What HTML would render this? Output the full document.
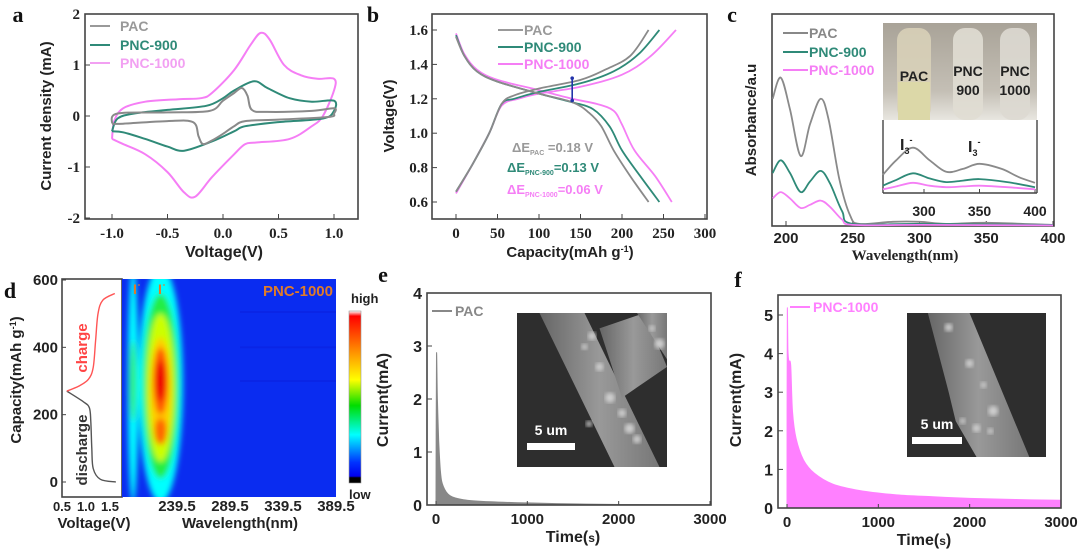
<!DOCTYPE html>
<html><head><meta charset="utf-8"><style>
html,body{margin:0;padding:0;background:#fff;width:1080px;height:555px;overflow:hidden}
svg text{font-family:"Liberation Sans",sans-serif;font-weight:bold}
.serif{font-family:"Liberation Serif",serif!important}
</style></head><body>
<svg id="fig" width="1080" height="555" viewBox="0 0 1080 555" xmlns="http://www.w3.org/2000/svg">
<defs>
<filter id="blur6" x="-50%" y="-50%" width="200%" height="200%"><feGaussianBlur stdDeviation="3"/></filter>
<filter id="blur2"><feGaussianBlur stdDeviation="2"/></filter>
<linearGradient id="cbar" x1="0" y1="0" x2="0" y2="1">
<stop offset="0" stop-color="#ffffff"/><stop offset="0.03" stop-color="#ff0000"/><stop offset="0.25" stop-color="#ff9900"/><stop offset="0.4" stop-color="#ffff00"/><stop offset="0.55" stop-color="#00dd00"/><stop offset="0.72" stop-color="#00ffff"/><stop offset="0.88" stop-color="#0033ff"/><stop offset="0.96" stop-color="#0000ee"/><stop offset="0.97" stop-color="#000"/><stop offset="1" stop-color="#000"/></linearGradient>
<linearGradient id="fiberE" x1="0" y1="0" x2="1" y2="0"><stop offset="0" stop-color="#666"/><stop offset="0.5" stop-color="#999"/><stop offset="1" stop-color="#777"/></linearGradient>
<linearGradient id="photo" x1="0" y1="0" x2="0" y2="1"><stop offset="0" stop-color="#a9a398"/><stop offset="0.7" stop-color="#c4bfb5"/><stop offset="1" stop-color="#e8e6e0"/></linearGradient>
</defs>
</svg>
<script>
// ---------- DATA ----------
const cvPAC=[[-1,-0.15],[-0.95,0.05],[-0.5,0.07],[-0.12,0.1],[0,0.3],[0.1,0.45],[0.17,0.55],[0.22,0.4],[0.26,0.12],[0.4,0.08],[0.8,0.1],[1.0,0.15],[1.0,0.05],[0.95,-0.02],[0.5,-0.07],[0.2,-0.1],[0.1,-0.2],[0,-0.35],[-0.1,-0.48],[-0.18,-0.55],[-0.22,-0.4],[-0.27,-0.12],[-0.5,-0.1],[-0.9,-0.15],[-1,-0.15]];
const cv900=[[-1,-0.3],[-0.95,-0.05],[-0.8,0.05],[-0.5,0.12],[-0.15,0.2],[0,0.35],[0.1,0.5],[0.28,0.68],[0.4,0.55],[0.6,0.35],[0.8,0.28],[1.0,0.3],[1.0,0.1],[0.9,-0.05],[0.5,-0.12],[0.2,-0.2],[0.1,-0.3],[-0.1,-0.5],[-0.35,-0.68],[-0.5,-0.6],[-0.7,-0.45],[-0.9,-0.32],[-1,-0.3]];
const cv1000=[[-1,-0.45],[-0.98,-0.1],[-0.9,0.15],[-0.7,0.28],[-0.4,0.33],[-0.2,0.35],[-0.1,0.45],[0.1,0.9],[0.25,1.4],[0.34,1.63],[0.42,1.5],[0.55,1.0],[0.7,0.8],[0.85,0.73],[1.0,0.73],[1.0,0.5],[0.9,0],[0.8,-0.2],[0.6,-0.45],[0.3,-0.52],[0.2,-0.55],[0.1,-0.75],[-0.1,-1.2],[-0.25,-1.58],[-0.35,-1.5],[-0.5,-1.1],[-0.7,-0.75],[-0.9,-0.55],[-1,-0.45]];
const aXTicks=[-1.0,-0.5,0.0,0.5,1.0];
const aYTicks=[-2,-1,0,1,2];
const chPAC=[[0,0.66],[20,0.82],[40,1.0],[55,1.17],[70,1.22],[100,1.26],[150,1.31],[180,1.37],[210,1.45],[232,1.6]];
const dcPAC=[[0,1.56],[10,1.45],[25,1.36],[50,1.3],[100,1.23],[140,1.18],[160,1.12],[175,1.04],[190,0.9],[210,0.75],[232,0.6]];
const ch900=[[0,0.66],[20,0.82],[40,1.0],[55,1.17],[70,1.2],[100,1.24],[150,1.29],[190,1.36],[220,1.46],[245,1.6]];
const dc900=[[0,1.57],[10,1.45],[25,1.36],[50,1.3],[100,1.23],[140,1.18],[165,1.14],[185,1.04],[200,0.9],[222,0.75],[245,0.6]];
const ch1000=[[0,0.65],[20,0.82],[40,1.0],[55,1.16],[75,1.2],[100,1.23],[150,1.27],[200,1.34],[235,1.45],[265,1.6]];
const dc1000=[[0,1.58],[10,1.46],[25,1.37],[50,1.31],[100,1.25],[140,1.2],[170,1.17],[190,1.13],[200,1.05],[215,0.9],[240,0.75],[260,0.6]];
const bXTicks=[0,50,100,150,200,250,300];
const bYTicks=[0.6,0.8,1.0,1.2,1.4,1.6];
const uvPAC=[[190,0.6],[196,0.7],[203,0.55],[211,0.33],[218,0.48],[226,0.6],[232,0.5],[240,0.22],[248,0.05],[255,0.01],[280,0.02],[300,0.02],[320,0.01],[350,0.015],[400,0.005]];
const uv900=[[190,0.25],[196,0.31],[203,0.25],[211,0.16],[218,0.21],[226,0.26],[233,0.2],[242,0.07],[250,0.01],[300,0.01],[400,0.005]];
const uv1000=[[190,0.13],[196,0.16],[203,0.13],[211,0.085],[218,0.1],[226,0.12],[233,0.09],[242,0.03],[250,0.005],[300,0.005],[400,0.003]];
const cXTicks=[200,250,300,350,400];
const insPAC=[[263,0.25],[275,0.45],[290,0.62],[305,0.45],[320,0.29],[335,0.33],[350,0.4],[370,0.33],[385,0.22],[400,0.14]];
const ins900=[[263,0.1],[275,0.18],[290,0.27],[305,0.2],[320,0.15],[335,0.17],[350,0.19],[375,0.15],[400,0.08]];
const ins1000=[[263,0.05],[275,0.09],[290,0.14],[305,0.1],[320,0.08],[335,0.09],[350,0.1],[375,0.08],[400,0.05]];
const insXTicks=[300,350,400];
const dDis=[[1.62,0],[1.3,8],[1.15,40],[1.12,100],[1.1,180],[1.07,220],[0.95,238],[0.6,270]];
const dCh=[[0.6,270],[0.85,285],[1.05,305],[1.15,340],[1.2,420],[1.25,500],[1.35,540],[1.6,560]];
const dYTicks=[0,200,400,600];
const dVTicks=[0.5,1.0,1.5];
const dWTicks=[239.5,289.5,339.5,389.5];
const heatLevels=[[224,-60,640,21,'#00ffff'],[224,10,560,17,'#22ee44'],[224,60,500,13,'#ccff00'],[224,110,430,10,'#ffcc00'],[224,200,400,7,'#ff5500'],[224,110,190,6,'#ff6600'],[224,240,360,5,'#ee0000'],[198,-60,640,5,'#00ffff'],[198,180,420,3,'#33ee66']];
const tPAC=[[0,0],[5,2.8],[15,2.0],[30,1.2],[50,0.6],[80,0.35],[150,0.18],[300,0.1],[600,0.06],[1000,0.04],[1500,0.02],[2000,0.01],[3000,0.005]];
const t1000=[[0,0],[3,5.0],[10,4.1],[20,3.8],[40,3.7],[60,2.5],[100,1.8],[180,1.25],[300,0.9],[500,0.62],[800,0.45],[1200,0.34],[1600,0.29],[2000,0.25],[2500,0.22],[3000,0.2]];
const eXTicks=[0,1000,2000,3000];
const eYTicks=[0,1,2,3,4];
const fYTicks=[0,1,2,3,4,5];

// ---------- helpers ----------
const svg=document.getElementById('fig');
const NS='http://www.w3.org/2000/svg';
function el(tag,attrs,parent){const e=document.createElementNS(NS,tag);for(const k in attrs)e.setAttribute(k,attrs[k]);(parent||svg).appendChild(e);return e;}
function txt(s,x,y,size,fill,anchor,parent,cls){const t=el('text',{x:x,y:y,'font-size':size,fill:fill||'#222','text-anchor':anchor||'middle'},parent);if(cls)t.setAttribute('class',cls);t.textContent=s;return t;}
function lin(d0,d1,p0,p1){return v=>p0+(v-d0)*(p1-p0)/(d1-d0);}
function smooth(pts){if(pts.length<2)return '';let d='M'+pts[0][0].toFixed(1)+','+pts[0][1].toFixed(1);
for(let i=0;i<pts.length-1;i++){const p0=pts[i-1]||pts[i],p1=pts[i],p2=pts[i+1],p3=pts[i+2]||p2;
const c1=[p1[0]+(p2[0]-p0[0])/6,p1[1]+(p2[1]-p0[1])/6],c2=[p2[0]-(p3[0]-p1[0])/6,p2[1]-(p3[1]-p1[1])/6];
d+=' C'+c1[0].toFixed(1)+','+c1[1].toFixed(1)+' '+c2[0].toFixed(1)+','+c2[1].toFixed(1)+' '+p2[0].toFixed(1)+','+p2[1].toFixed(1);}return d;}
function series(data,sx,sy,stroke,w,g){const p=el('path',{d:smooth(data.map(d=>[sx(d[0]),sy(d[1])])),fill:'none',stroke:stroke,'stroke-width':w||2,'stroke-linejoin':'round'},g);return p;}
function frame(x0,y0,x1,y1,g){el('rect',{x:x0,y:y0,width:x1-x0,height:y1-y0,fill:'none',stroke:'#444','stroke-width':1.6},g);}
function group(name){const g=el('g',{});return g;}

// ---------- Panel a ----------
(function(){const g=group('panel-a-cv');
const sx=lin(-1,1,112,334), sy=lin(0,1,116,65);
txt('a',18,22,22,'#111','middle',g,'serif');
frame(85,14,358,219,g);
aXTicks.forEach(v=>{el('line',{x1:sx(v),y1:219,x2:sx(v),y2:214,stroke:'#444'},g);const t=txt(v.toFixed(1),sx(v),238,15,'#222','middle',g,'serif');});
aYTicks.forEach(v=>{el('line',{x1:85,y1:sy(v),x2:90,y2:sy(v),stroke:'#444'},g);const t=txt(String(v),80,sy(v)+5,15,'#222','end',g,'serif');});
let s;
s=series(cv1000,sx,sy,'#f57ef5',2,g);
s=series(cv900,sx,sy,'#2f8a78',2,g);
s=series(cvPAC,sx,sy,'#8a8a8a',2,g);
[['PAC','#999',26],['PNC-900','#2f8a78',45],['PNC-1000','#f2a0f2',63]].forEach(l=>{el('line',{x1:90,y1:l[2],x2:110,y2:l[2],stroke:l[1],'stroke-width':2},g);const t=txt(l[0],120,l[2]+5,14,l[1],'start',g);});
const yl=txt('Current density (mA)',0,0,15,'#222','middle',g);yl.setAttribute('transform','translate(51,116) rotate(-90)');
const xl=txt('Voltage(V)',224,257,16,'#222','middle',g);
})();

// ---------- Panel b ----------
(function(){const g=group('panel-b-gcd');
const sx=lin(0,300,456,705), sy=lin(0.6,1.6,202,30);
txt('b',373,22,22,'#111','middle',g,'serif');
frame(432,14,707,219,g);
bXTicks.forEach(v=>{el('line',{x1:sx(v),y1:219,x2:sx(v),y2:214,stroke:'#444'},g);const t=txt(String(v),sx(v),238,15,'#222','middle',g,'serif');});
bYTicks.forEach(v=>{el('line',{x1:432,y1:sy(v),x2:437,y2:sy(v),stroke:'#444'},g);const t=txt(v.toFixed(1),428,sy(v)+5,15,'#222','end',g,'serif');});
let s;
[[ch1000,'#f57ef5','charge-pnc-1000'],[dc1000,'#f57ef5','discharge-pnc-1000'],[ch900,'#2f8a78','charge-pnc-900'],[dc900,'#2f8a78','discharge-pnc-900'],[chPAC,'#8a8a8a','charge-pac'],[dcPAC,'#8a8a8a','discharge-pac']].forEach(a=>{s=series(a[0],sx,sy,a[1],1.8,g);});
const ar=el('line',{x1:sx(140),y1:sy(1.19),x2:sx(140),y2:sy(1.32),stroke:'#2233aa','stroke-width':1.6},g);
el('circle',{cx:sx(140),cy:sy(1.19),r:1.8,fill:'#2233aa'},g);el('circle',{cx:sx(140),cy:sy(1.32),r:1.8,fill:'#2233aa'},g);
[['PAC','#999',30],['PNC-900','#2f8a78',47],['PNC-1000','#f57ef5',64]].forEach(l=>{el('line',{x1:498,y1:l[2],x2:523,y2:l[2],stroke:l[1],'stroke-width':2},g);const t=txt(l[0],524,l[2]+5,14,l[1],'start',g);});
function de(sub,val,x,y,c){const t=el('text',{x:x,y:y,'font-size':13,fill:c,'text-anchor':'start'},g);
const a=el('tspan',{},t);a.textContent='ΔE';const b=el('tspan',{dy:3,'font-size':7},t);b.textContent=sub;const c2=el('tspan',{dy:-3},t);c2.textContent=val;}
de('PAC','    =0.18 V',512,152,'#999');de('PNC-900','=0.13 V',507,172,'#2f8a78');de('PNC-1000','=0.06 V',507,194,'#f57ef5');
const yl=txt('Voltage(V)',0,0,15,'#222','middle',g);yl.setAttribute('transform','translate(394,116) rotate(-90)');
const xl=el('text',{x:570,y:257,'font-size':15,fill:'#222','text-anchor':'middle'},g);
const t1=el('tspan',{},xl);t1.textContent='Capacity(mAh g';const t2=el('tspan',{dy:-5,'font-size':9},xl);t2.textContent='-1';const t3=el('tspan',{dy:5},xl);t3.textContent=')';
})();

// ---------- Panel c ----------
(function(){const g=group('panel-c-uv');
const sx=lin(200,400,786,1053), sy=lin(0,1,226,14);
txt('c',732,22,22,'#111','middle',g,'serif');
frame(772,14,1054,226,g);
cXTicks.forEach(v=>{el('line',{x1:sx(v),y1:226,x2:sx(v),y2:221,stroke:'#444'},g);const t=txt(String(v),sx(v),243,15,'#222','middle',g);});
let s;
s=series(uvPAC,sx,sy,'#8a8a8a',1.8,g);
s=series(uv900,sx,sy,'#2f8a78',1.8,g);
s=series(uv1000,sx,sy,'#f57ef5',1.8,g);
[['PAC','#888',33],['PNC-900','#2f8a78',52],['PNC-1000','#f57ef5',70]].forEach(l=>{el('line',{x1:783,y1:l[2],x2:808,y2:l[2],stroke:l[1],'stroke-width':2},g);const t=txt(l[0],809,l[2]+5,14,l[1],'start',g);});
const ph=el('g',{},g);
el('rect',{x:883,y:23,width:154,height:97,fill:'url(#photo)'},ph);
el('rect',{x:897,y:28,width:34,height:92,rx:12,fill:'#d8d0b8',opacity:0.9},ph);
el('rect',{x:898,y:82,width:32,height:38,fill:'#dcd8a8'},ph);
el('rect',{x:953,y:28,width:30,height:92,rx:12,fill:'#e0ddd3',opacity:0.9},ph);
el('rect',{x:1000,y:28,width:30,height:92,rx:12,fill:'#ddd9d1',opacity:0.9},ph);
txt('PAC',914,81,14,'#222','middle',ph);txt('PNC',968,76,14,'#222','middle',ph);txt('900',968,95,14,'#222','middle',ph);txt('PNC',1015,76,14,'#222','middle',ph);txt('1000',1015,95,14,'#222','middle',ph);
const ig=el('g',{},g);
const ix=lin(300,400,924,1035), iy=lin(0,1,193,120);
el('rect',{x:883,y:120,width:154,height:73,fill:'#fff'},ig);
el('line',{x1:883,y1:193,x2:1037,y2:193,stroke:'#444','stroke-width':1.4},ig);el('line',{x1:883,y1:120,x2:883,y2:193,stroke:'#444','stroke-width':1.4},ig);el('line',{x1:1037,y1:120,x2:1037,y2:193,stroke:'#444','stroke-width':1.4},ig);
insXTicks.forEach(v=>{el('line',{x1:ix(v),y1:193,x2:ix(v),y2:189,stroke:'#444'},ig);txt(String(v),ix(v),216,14,'#222','middle',ig);});
series(insPAC,ix,iy,'#8a8a8a',1.8,ig);series(ins900,ix,iy,'#2f8a78',1.8,ig);series(ins1000,ix,iy,'#f57ef5',1.8,ig);
function i3(x,y){const t=el('text',{x:x,y:y,'font-size':16,fill:'#222'},ig);const a=el('tspan',{},t);a.textContent='I';const b=el('tspan',{dy:4,'font-size':9},t);b.textContent='3';const c=el('tspan',{dy:-11,'font-size':9},t);c.textContent='-';}
i3(900,150);i3(968,152);
const yl=txt('Absorbance/a.u',0,0,15,'#222','middle',g);yl.setAttribute('transform','translate(756,120) rotate(-90)');
const xl=txt('Wavelength(nm)',905,260,15,'#222','middle',g,'serif');
})();

// ---------- Panel d ----------
(function(){const g=group('panel-d-insitu');
txt('d',10,298,22,'#111','middle',g,'serif');
const sy=lin(0,600,482,280), sv=lin(0.5,1.5,62,110);
frame(62,279,122,497,g);
dYTicks.forEach(v=>{el('line',{x1:62,y1:sy(v),x2:66,y2:sy(v),stroke:'#444'},g);const t=txt(String(v),58,sy(v)+5,15,'#222','end',g);});
dVTicks.forEach(v=>{const t=txt(v.toFixed(1),sv(v),511,13,'#222','middle',g);});
let s=series(dDis,sv,sy,'#555',1.4,g);
s=series(dCh,sv,sy,'#ff5555',1.4,g);
let t=txt('charge',0,0,15,'#ff4444','middle',g);t.setAttribute('transform','translate(87,348) rotate(-90)');
t=txt('discharge',0,0,15,'#333','middle',g);t.setAttribute('transform','translate(87,450) rotate(-90)');
const sw=lin(239.5,389.5,177,336);
const hm=el('g',{},g);
el('rect',{x:122,y:279,width:214,height:218,fill:'#0a2cf0'},hm);
const cp=el('clipPath',{id:'hmclip'},hm);el('rect',{x:122,y:279,width:214,height:218},cp);
const bl=el('g',{'clip-path':'url(#hmclip)'},hm);const bl2=el('g',{filter:'url(#blur6)'},bl);
heatLevels.forEach(h=>{const cx=sw(h[0]),y1=sy(h[2]),y2=sy(h[1]);const e=el('ellipse',{cx:cx,cy:(y1+y2)/2,rx:h[3]*1.06,ry:(y2-y1)/2,fill:h[4]},bl2);});
[400,300,505].forEach(c=>el('rect',{x:240,y:sy(c)-1,width:96,height:2,fill:'#0a22e0',opacity:0.6},bl));
dWTicks.forEach(v=>{const tt=txt(String(v),sw(v),511,15,'#222','middle',g);});
txt('I',135,294,14,'#e07b2a','middle',g);txt('-',139,287,8,'#e07b2a','middle',g);txt('I',160,294,14,'#e07b2a','middle',g);txt('-',164,287,8,'#e07b2a','middle',g);
t=txt('PNC-1000',333,296,15,'#e07b2a','end',g);
const cb=el('rect',{x:349,y:311,width:12,height:172,fill:'url(#cbar)',stroke:'#999','stroke-width':0.6},g);
txt('high',351,303,13,'#222','start',g);txt('low',349,499,13,'#222','start',g);
t=el('text',{x:0,y:0,'font-size':15,fill:'#222','text-anchor':'middle',transform:'translate(21,380) rotate(-90)'},g);
let a=el('tspan',{},t);a.textContent='Capacity(mAh g';a=el('tspan',{dy:-5,'font-size':9},t);a.textContent='-1';a=el('tspan',{dy:5},t);a.textContent=')';
t=txt('Voltage(V)',94,528,15,'#222','middle',g);
t=txt('Wavelength(nm)',240,528,15,'#222','middle',g);
})();

// ---------- Panels e, f ----------
function ca(opt){const g=group(opt.name);
const sx=lin(0,3000,opt.x0,opt.x3000), sy=lin(0,opt.yTop,opt.yb,opt.yt);
txt(opt.letter,opt.lx,opt.ly,22,'#111','middle',g,'serif');
const pts=opt.data.map(d=>[sx(d[0]),sy(d[1])]);
let d='M'+sx(0)+','+opt.yb+' L'+smooth(pts).slice(1)+' L'+sx(3000)+','+opt.yb+' Z';
const a=el('path',{d:d,fill:opt.color,stroke:opt.color,'stroke-width':1},g);
frame(opt.fx0,opt.fy0,opt.fx1,opt.yb,g);
eXTicks.forEach(v=>{el('line',{x1:sx(v),y1:opt.yb,x2:sx(v),y2:opt.yb-4,stroke:'#444'},g);const t=txt(String(v),sx(v),opt.yb+19,15,'#222','middle',g);});
opt.yTicks.forEach(v=>{el('line',{x1:opt.fx0,y1:sy(v),x2:opt.fx0+5,y2:sy(v),stroke:'#444'},g);const t=txt(String(v),opt.fx0-5,sy(v)+6,16,'#222','end',g);});
el('line',{x1:opt.legX,y1:opt.legY,x2:opt.legX+20,y2:opt.legY,stroke:opt.color,'stroke-width':2},g);
const lt=txt(opt.label,opt.legX+23,opt.legY+5,14,opt.color,'start',g);
const sem=el('g',{},g);
const [ix,iy,iw,ih]=opt.sem;
el('rect',{x:ix,y:iy,width:iw,height:ih,fill:'#2e2e2e'},sem);
const cp=el('clipPath',{id:'c'+opt.letter},sem);el('rect',{x:ix,y:iy,width:iw,height:ih},cp);
const sg=el('g',{'clip-path':'url(#c'+opt.letter+')'},sem);
opt.fibers.forEach(f=>el('polygon',{points:f.map(p=>(ix+p[0]*iw)+','+(iy+p[1]*ih)).join(' '),fill:'url(#fiberE)'},sg));
opt.blobs.forEach(b=>el('circle',{cx:ix+b[0]*iw,cy:iy+b[1]*ih,r:b[2],fill:'#cfcfcf',filter:'url(#blur2)'},sg));
el('rect',{x:ix+opt.bar[0],y:iy+opt.bar[1],width:opt.bar[2],height:7,fill:'#fff'},sem);
txt('5 um',ix+opt.bar[0]+opt.bar[2]/2,iy+opt.bar[1]-8,14,'#fff','middle',sem);
let t=txt('Current(mA)',0,0,16,'#222','middle',g);t.setAttribute('transform','translate('+opt.ylx+',400) rotate(-90)');
t=el('text',{x:opt.x0+(opt.x3000-opt.x0)/2,y:opt.yb+37,'font-size':16,fill:'#222','text-anchor':'middle'},g);
let s=el('tspan',{},t);s.textContent='Time(';s=el('tspan',{'font-size':12},t);s.textContent='s';s=el('tspan',{},t);s.textContent=')';
}
ca({name:'panel-e-pac',letter:'e',lx:383,ly:282,data:tPAC,color:'#888888',seriesName:'current-pac',label:'PAC',x0:436,x3000:710,yb:505,yt:293,yTop:4,fx0:427,fy0:293,fx1:711,yTicks:eYTicks,legX:432,legY:311,ylx:388,
 sem:[517,313,150,154],fibers:[[[0.15,0],[0.45,0],[0.95,1],[0.65,1]],[[0.55,0.1],[0.85,0],[1,0.35],[0.7,0.55]],[[0.8,0],[1,0],[1,0.3]]],
 blobs:[[0.5,0.15,4],[0.45,0.22,3],[0.55,0.35,4],[0.62,0.55,5],[0.7,0.65,4],[0.75,0.75,5],[0.8,0.82,4],[0.48,0.72,3],[0.95,0.2,5],[0.9,0.1,3]],bar:[10,130,48]});
ca({name:'panel-f-pnc1000',letter:'f',lx:738,ly:287,data:t1000,color:'#ff80ff',seriesName:'current-pnc-1000',label:'PNC-1000',x0:787,x3000:1061,yb:508,yt:315,yTop:5,fx0:778,fy0:295,fx1:1061,yTicks:fYTicks,legX:790,legY:307,ylx:741,
 sem:[907,313,139,144],fibers:[[[0.15,0],[0.45,0],[0.88,1],[0.5,1],[0.35,0.75],[0.3,0.55]]],
 blobs:[[0.3,0.1,4],[0.45,0.35,4],[0.55,0.5,3],[0.62,0.68,5],[0.5,0.8,4],[0.4,0.75,3],[0.6,0.82,3]],bar:[5,124,50]});
</script>
</body></html>
